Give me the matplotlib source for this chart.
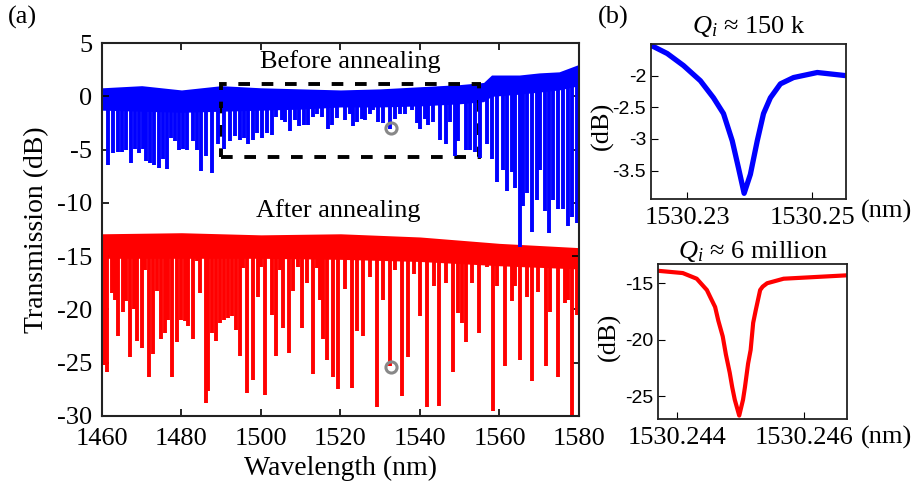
import numpy as np
import matplotlib
matplotlib.use('Agg')
from matplotlib import pyplot as plt
from matplotlib.patches import Rectangle

plt.rcParams['font.family'] = ['Liberation Serif', 'DejaVu Serif']
plt.rcParams['mathtext.fontset'] = 'custom'
plt.rcParams['mathtext.it'] = 'Liberation Serif:italic'
plt.rcParams['mathtext.rm'] = 'Liberation Serif'
plt.rcParams['axes.unicode_minus'] = False

# ---- (a) full spectrum ----
env_wl = [1460, 1470, 1480, 1490, 1500, 1510, 1520, 1530, 1540, 1550, 1556, 1558, 1565, 1570, 1575, 1580]
blue_top = [0.8, 1.0, 0.6, 1.0, 0.8, 0.7, 0.6, 0.7, 0.9, 1.1, 1.3, 2.0, 2.0, 2.2, 2.3, 3.0]
blue_bot = [-1.3, -1.4, -1.5, -1.4, -1.3, -1.2, -1.0, -1.0, -0.9, -0.7, -0.5, 0.0, 0.2, 0.4, 0.6, 1.0]

red_wl = [1460, 1480, 1500, 1520, 1540, 1560, 1580]
red_top = [-12.9, -12.8, -13.0, -12.9, -13.2, -13.8, -14.2]
red_bot = [-15.2, -15.2, -15.2, -15.3, -15.5, -15.9, -16.2]

blue_dip_wl = [1461.6, 1462.9, 1464.1, 1465.0, 1466.0, 1467.3, 1468.3, 1469.4, 1470.2, 1471.2,
               1472.1, 1473.1, 1474.4, 1475.4, 1476.4, 1477.4, 1478.4, 1479.5, 1480.5, 1481.5,
               1482.8, 1483.8, 1484.9, 1486.2, 1487.8, 1489.3, 1490.7, 1492.2, 1493.5, 1494.7,
               1495.7, 1496.8, 1498.1, 1498.9, 1500.2, 1501.4, 1502.7, 1503.8, 1505.2, 1506.0,
               1507.3, 1508.6, 1509.6, 1510.7, 1511.9, 1513.2, 1514.2, 1515.3, 1516.8, 1517.8,
               1519.0, 1521.1, 1522.4, 1523.2, 1524.1, 1525.3, 1526.2, 1527.4, 1528.3, 1529.5,
               1530.8, 1532.5, 1533.7, 1535.0, 1536.2, 1537.9, 1539.2, 1540.0, 1541.3, 1542.1,
               1543.3, 1545.0, 1546.5, 1547.5, 1548.8, 1549.6, 1551.6, 1552.6, 1553.8, 1555.1,
               1556.8, 1558.0, 1559.3, 1561.0, 1561.8, 1563.1, 1563.9, 1565.2, 1565.8, 1566.8,
               1568.1, 1569.4, 1570.2, 1571.4, 1572.5, 1573.5, 1574.8, 1576.1, 1577.3, 1578.2,
               1579.4]
blue_dip_db = [-6.4, -5.3, -5.2, -5.2, -5.0, -6.3, -4.9, -5.3, -4.9, -6.1,
               -6.3, -6.4, -6.7, -5.9, -6.8, -3.9, -4.2, -5.0, -4.9, -5.0,
               -4.2, -5.0, -7.0, -5.6, -7.2, -4.5, -4.9, -4.2, -3.7, -4.1,
               -3.9, -4.5, -4.1, -3.4, -3.9, -3.4, -3.6, -1.9, -2.2, -2.4,
               -3.3, -2.2, -2.8, -2.7, -2.7, -1.9, -1.7, -1.9, -3.1, -2.7,
               -2.0, -2.2, -1.7, -2.8, -2.4, -2.1, -2.2, -1.7, -1.3, -2.4,
               -2.5, -3.1, -2.1, -1.7, -1.7, -1.3, -2.5, -3.1, -2.1, -2.7,
               -2.4, -4.1, -4.5, -2.4, -5.6, -4.2, -5.0, -5.0, -5.2, -5.8,
               -4.5, -5.9, -8.0, -6.9, -8.9, -7.1, -8.6, -14.1, -10.3, -9.1,
               -12.7, -9.7, -6.9, -10.8, -12.8, -9.7, -10.6, -10.6, -12.2, -11.3,
               -11.9]

red_dip_wl = [1460.5, 1461.3, 1462.4, 1463.3, 1464.1, 1465.4, 1466.0, 1467.0, 1468.1, 1468.7,
              1470.0, 1470.8, 1471.8, 1472.9, 1473.8, 1474.8, 1475.9, 1476.7, 1477.5, 1479.0,
              1480.0, 1480.9, 1481.7, 1482.8, 1483.8, 1484.7, 1486.2, 1486.6, 1487.6, 1488.8,
              1489.7, 1490.7, 1491.8, 1492.6, 1493.6, 1494.7, 1495.6, 1496.6, 1498.1, 1499.3,
              1500.0, 1501.0, 1502.7, 1503.9, 1504.8, 1505.6, 1507.1, 1508.1, 1509.4, 1510.2,
              1511.5, 1513.2, 1514.0, 1514.8, 1515.7, 1516.5, 1518.0, 1519.3, 1521.1, 1522.8,
              1524.1, 1525.7, 1527.4, 1529.1, 1530.6, 1532.5, 1533.7, 1535.4, 1537.1, 1538.5,
              1540.0, 1541.8, 1543.4, 1544.9, 1546.5, 1548.4, 1549.6, 1550.5, 1551.6, 1553.2,
              1554.9, 1556.8, 1558.3, 1559.3, 1561.4, 1563.1, 1563.9, 1565.2, 1566.8, 1568.1,
              1569.8, 1571.7, 1572.7, 1574.8, 1576.5, 1577.3, 1578.3, 1579.5]
red_dip_db = [-25.2, -25.9, -18.5, -19.1, -22.5, -20.2, -19.2, -24.5, -20.0, -23.0,
              -23.6, -16.3, -26.3, -24.2, -18.3, -22.8, -22.2, -21.0, -26.3, -23.1,
              -21.0, -21.1, -21.6, -22.8, -15.5, -18.5, -28.8, -27.7, -22.2, -23.0,
              -21.3, -21.0, -20.8, -20.6, -21.9, -24.4, -16.1, -27.8, -26.6, -18.8,
              -16.0, -28.0, -20.5, -24.4, -16.3, -21.7, -24.1, -18.3, -16.0, -21.7,
              -17.5, -26.1, -16.1, -19.1, -22.8, -24.7, -26.3, -27.5, -18.1, -27.4,
              -22.0, -22.5, -17.0, -29.2, -19.1, -25.3, -16.3, -28.1, -24.5, -16.7,
              -20.6, -29.2, -17.8, -29.1, -17.5, -25.9, -20.3, -21.3, -23.1, -17.5,
              -22.2, -16.0, -29.5, -17.8, -25.3, -19.2, -17.8, -24.7, -18.8, -26.7,
              -18.4, -25.3, -20.2, -26.3, -19.4, -19.1, -29.9, -20.5]

marker_wl = [1532.7, 1532.7]
marker_db = [-3.0, -25.4]

# ---- (b) zoomed resonances ----
b1_wl = [1530.2242, 1530.2268, 1530.2294, 1530.2321, 1530.2342, 1530.2358, 1530.2372, 1530.2382,
         1530.2391, 1530.2401, 1530.2412, 1530.2422, 1530.2433, 1530.2449, 1530.2470, 1530.2508,
         1530.2554]
b1_db = [-1.52, -1.65, -1.84, -2.08, -2.35, -2.60, -3.03, -3.46,
         -3.86, -3.56, -3.03, -2.60, -2.35, -2.13, -2.03, -1.95, -2.00]

b2_wl = [1530.24370, 1530.24409, 1530.24431, 1530.24447, 1530.24453, 1530.24460, 1530.24465,
         1530.24472, 1530.24477, 1530.24483, 1530.24487, 1530.24491, 1530.24498, 1530.24504,
         1530.24507, 1530.24512, 1530.24516, 1530.24520, 1530.24524, 1530.24531, 1530.24535,
         1530.24542, 1530.24568, 1530.24668]
b2_db = [-13.9, -14.1, -14.6, -15.6, -16.3, -17.1, -18.3,
         -19.7, -21.3, -22.9, -24.2, -25.3, -26.7, -25.3,
         -24.2, -22.1, -20.9, -18.5, -17.4, -15.6, -15.3,
         -15.0, -14.6, -14.3]

fig = plt.figure(figsize=(9.17, 4.92), dpi=100)

ax = fig.add_axes([0.1112, 0.1545, 0.5202, 0.758])
ax.fill_between(env_wl, blue_bot, blue_top, color='#0000ff', lw=0)
ax.vlines(blue_dip_wl, np.interp(blue_dip_wl, env_wl, blue_bot) + 0.3, blue_dip_db,
          color='#0000ff', lw=2.8)
ax.fill_between(red_wl, red_bot, red_top, color='#ff0000', lw=0)
ax.vlines(red_dip_wl, np.interp(red_dip_wl, red_wl, red_bot) + 0.3, red_dip_db,
          color='#ff0000', lw=2.8)
ax.plot(marker_wl, marker_db, 'o', ms=8, mfc='none', mec='#888888', mew=2.2)
ax.add_patch(Rectangle((1489.9, -5.7), 1554.8 - 1489.9, 1.2 + 5.7, fill=False,
                       ec='black', lw=2.8, ls=(0, (3, 3))))
ax.text(1522.5, 3.3, 'Before annealing', fontsize=19, ha='center', va='center')
ax.text(1519.5, -10.7, 'After annealing', fontsize=19, ha='center', va='center')
ax.set_xlim(1460, 1580)
ax.set_ylim(-30, 5)
ax.set_xticks([1460, 1480, 1500, 1520, 1540, 1560, 1580])
ax.set_yticks([5, 0, -5, -10, -15, -20, -25, -30])
ax.tick_params(direction='in', top=True, right=True, labelsize=19, length=5, width=1.2)
ax.tick_params(axis='x', pad=9)
ax.tick_params(axis='y', pad=7)
ax.set_xlabel('Wavelength (nm)', fontsize=20, labelpad=4)
ax.set_ylabel('Transmission (dB)', fontsize=20, labelpad=6)
for s in ax.spines.values():
    s.set_linewidth(1.5)
    s.set_color('#222222')

ax1 = fig.add_axes([0.7099, 0.5955, 0.2127, 0.315])
ax1.plot(b1_wl, b1_db, color='#0000ff', lw=3.8)
ax1.set_xlim(1530.2242, 1530.2554)
ax1.set_ylim(-3.95, -1.5)
ax1.set_xticks([1530.23, 1530.25])
ax1.set_xticklabels(['1530.23', '1530.25'])
ax1.set_yticks([-2, -2.5, -3, -3.5])
ax1.set_yticklabels(['-2', '-2.5', '-3', '-3.5'], family='Liberation Sans', fontsize=14)
ax1.tick_params(axis='x', labelsize=19, pad=6)
ax1.tick_params(direction='in', length=5)
ax1.set_title(r'$Q_i$ ≈ 150 k', fontsize=19, pad=8)

ax2 = fig.add_axes([0.7176, 0.1484, 0.2061, 0.315])
ax2.plot(b2_wl, b2_db, color='#ff0000', lw=3.0)
ax2.set_xlim(1530.24370, 1530.24668)
ax2.set_ylim(-27.0, -13.3)
ax2.set_xticks([1530.244, 1530.246])
ax2.set_xticklabels(['1530.244', '1530.246'])
ax2.set_yticks([-15, -20, -25])
ax2.set_yticklabels(['-15', '-20', '-25'], family='Liberation Sans', fontsize=14)
ax2.tick_params(axis='x', labelsize=19, pad=6)
ax2.tick_params(direction='in', length=5)
ax2.set_title(r'$Q_i$ ≈ 6 million', fontsize=19, pad=4)

for a in (ax1, ax2):
    for s in a.spines.values():
        s.set_linewidth(1.3)
        s.set_color('#222222')

fig.text(0.009, 0.965, '(a)', fontsize=19, va='center')
fig.text(0.652, 0.965, '(b)', fontsize=19, va='center')
fig.text(0.657, 0.745, '(dB)', fontsize=19, rotation=90, ha='center', va='center')
fig.text(0.665, 0.315, '(dB)', fontsize=19, rotation=90, ha='center', va='center')
fig.text(0.967, 0.57, '(nm)', fontsize=19, ha='center', va='center')
fig.text(0.967, 0.11, '(nm)', fontsize=19, ha='center', va='center')

fig.savefig('out.png', dpi=100)
